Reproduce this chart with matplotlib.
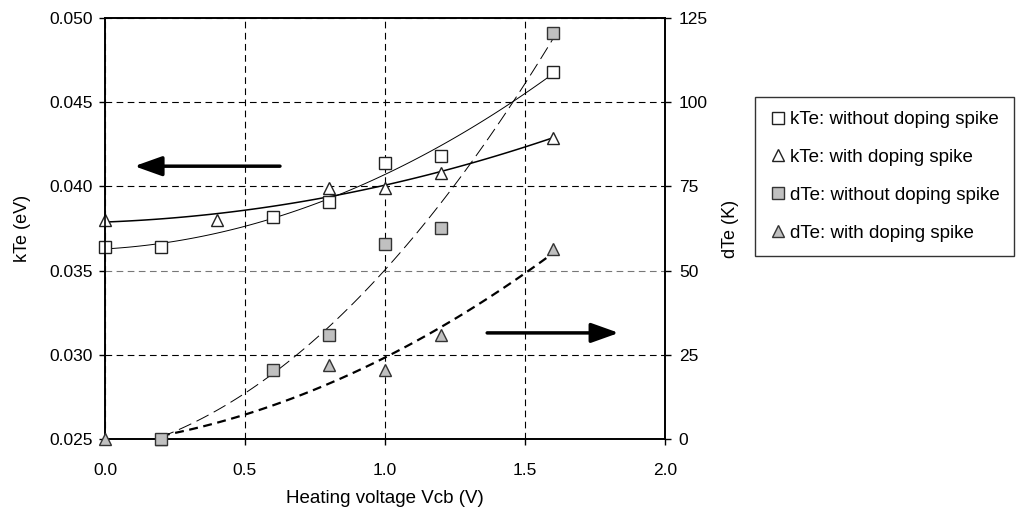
import numpy as np
import matplotlib
matplotlib.use('Agg')
import matplotlib.pyplot as plt

plt.rcParams['font.family'] = ['Liberation Sans', 'DejaVu Sans']
plt.rcParams['font.size'] = 12

# kTe (lewa oś)
x_kte_bez = [0.0, 0.2, 0.6, 0.8, 1.0, 1.2, 1.6]
kte_bez = [0.0364, 0.0364, 0.0382, 0.0391, 0.0414, 0.0418, 0.0468]
x_kte_z = [0.0, 0.4, 0.8, 1.0, 1.2, 1.6]
kte_z = [0.0380, 0.0380, 0.0399, 0.0399, 0.0408, 0.0429]

# dTe (prawa oś)
x_dte_bez = [0.2, 0.6, 0.8, 1.0, 1.2, 1.6]
dte_bez = [0.0, 20.5, 31.0, 58.0, 62.5, 120.5]
x_dte_z = [0.0, 0.2, 0.8, 1.0, 1.2, 1.6]
dte_z = [0.0, 0.0, 22.0, 20.5, 31.0, 56.5]

etykiety = ['kTe: without doping spike', 'kTe: with doping spike',
            'dTe: without doping spike', 'dTe: with doping spike']
szary = '#c0c0c0'

fig = plt.figure(figsize=(10.24, 5.11), dpi=100)
ax = fig.add_axes([0.1025, 0.1409, 0.5469, 0.8239])
ax2 = ax.twinx()


def trend(xs, ys, x_od, x_do, st=2):
    p = np.polyfit(xs, ys, st)
    xx = np.linspace(x_od, x_do, 100)
    return xx, np.polyval(p, xx)


# linie trendu
xx, yy = trend(x_kte_bez, kte_bez, 0.0, 1.6)
ax.plot(xx, yy, color='black', lw=0.7)
xx, yy = trend(x_kte_z, kte_z, 0.0, 1.6)
ax.plot(xx, yy, color='black', lw=1.1)
xx, yy = trend(x_dte_bez, dte_bez, 0.2, 1.6)
ax2.plot(xx, np.clip(yy, 0, None), color='black', lw=0.7, dashes=(14, 6))
xx, yy = trend(x_dte_z[1:], dte_z[1:], 0.2, 1.6)
ax2.plot(xx, np.clip(yy, 0, None), color='black', lw=1.6, dashes=(4, 2.5))

# punkty
ms = 8.5
h4, = ax2.plot(x_dte_z, dte_z, '^', ms=ms + 0.5, mfc=szary, mec='#333333', mew=1.0,
               clip_on=False, zorder=5)
h3, = ax2.plot(x_dte_bez, dte_bez, 's', ms=ms, mfc=szary, mec='#333333', mew=1.0,
               clip_on=False, zorder=6)
h1, = ax.plot(x_kte_bez, kte_bez, 's', ms=ms, mfc='white', mec='#222222', mew=1.0,
              clip_on=False, zorder=5)
h2, = ax.plot(x_kte_z, kte_z, '^', ms=ms + 0.5, mfc='white', mec='#222222', mew=1.0,
              clip_on=False, zorder=5)

ax.set_xlim(0, 2.0)
ax.set_ylim(0.025, 0.050)
ax2.set_ylim(0, 125)
ax.set_xticks([0.0, 0.5, 1.0, 1.5, 2.0])
ax.set_xticklabels(['0.0', '0.5', '1.0', '1.5', '2.0'])
ax.set_yticks([0.025, 0.030, 0.035, 0.040, 0.045, 0.050])
ax.set_yticklabels(['0.025', '0.030', '0.035', '0.040', '0.045', '0.050'])
ax2.set_yticks([0, 25, 50, 75, 100, 125])

ax.grid(True, color='black', ls=(0, (6, 4)), lw=0.8)
ax.get_ygridlines()[2].set_color('#777777')
ax.set_axisbelow(True)
for a in (ax, ax2):
    for s in a.spines.values():
        s.set_linewidth(1.2)
ax.tick_params(axis='y', direction='out', length=4, width=1, labelsize=12.5, pad=5)
ax.tick_params(axis='x', direction='out', length=4, width=1, labelsize=12.5, pad=13)
ax2.tick_params(direction='out', length=4, width=1, labelsize=12.5, pad=6)

ax.set_xlabel('Heating voltage Vcb (V)', fontsize=13.5, labelpad=9)
ax.set_ylabel('kTe (eV)', fontsize=13, labelpad=13)
ax2.set_ylabel('dTe (K)', fontsize=13, labelpad=10)

# strzałki
ax.annotate('', xy=(0.105, 0.0412), xytext=(0.625, 0.0412),
            arrowprops=dict(arrowstyle='-|>,head_length=1.4,head_width=0.5',
                            color='black', lw=2.5, shrinkA=0, shrinkB=0))
ax2.annotate('', xy=(1.835, 31.5), xytext=(1.365, 31.5),
             arrowprops=dict(arrowstyle='-|>,head_length=1.4,head_width=0.5',
                             color='black', lw=2.5, shrinkA=0, shrinkB=0))

leg = fig.legend([h1, h2, h3, h4], etykiety, loc='upper left',
                 bbox_to_anchor=(0.737, 0.81), bbox_transform=fig.transFigure,
                 fontsize=13.5, frameon=True, fancybox=False, edgecolor='black',
                 handlelength=1.0, handletextpad=0.15, labelspacing=1.1,
                 borderpad=0.75, borderaxespad=0, markerscale=1.0)
leg.get_frame().set_linewidth(1.0)

fig.savefig('out.png', dpi=100)
